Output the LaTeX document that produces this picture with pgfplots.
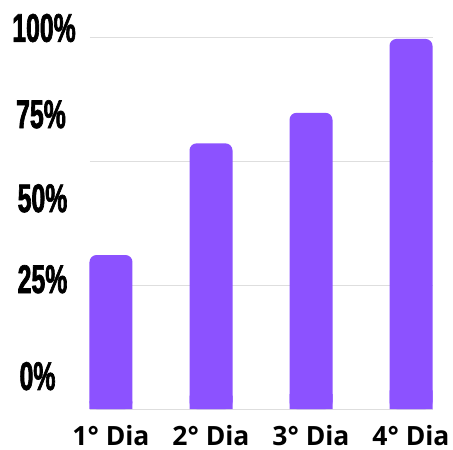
\documentclass[border=0pt]{standalone}
\usepackage{fontspec}
\setmainfont{Open Sans}
\newfontfamily\ylab{Liberation Sans}[FakeStretch=0.62, BoldFeatures={FakeBold=1.6}]
\usepackage{pgfplots}
\pgfplotsset{compat=1.18}
\usepackage{pgfplotstable}
\definecolor{barpurple}{HTML}{8C52FF}
\definecolor{gridgray}{HTML}{DEDEDE}
\pgfplotstableread{
x v
0 1.244
1 2.146
2 2.393
3 2.990
}\datatable
\begin{document}
\begin{tikzpicture}
\begin{axis}[
  scale only axis,
  width=343bp, height=371.3bp,
  xmin=-0.21, xmax=3.22,
  ymin=0, ymax=3,
  axis line style={draw=none},
  major tick length=0pt,
  ytick=\empty,
  extra y ticks={0,1,2,3},
  extra y tick labels={},
  extra y tick style={grid=major, major grid style={gridgray, line width=1bp}},
  xtick={0,1,2,3},
  xticklabels={1° Dia, 2° Dia, 3° Dia, 4° Dia},
  xticklabel style={anchor=base, yshift=-36.8bp, inner sep=0pt, font=\bfseries\fontsize{26.5bp}{26.5bp}\selectfont},
  clip=false,
]
\coordinate (O) at (rel axis cs:0,0);
\addplot[ybar, bar width=0.43, bar shift=0pt, fill=barpurple, draw=none] table[x=x, y expr=\thisrow{v}*0.05] {\datatable};
\addplot[ybar, bar width=0.43, bar shift=0pt, fill=barpurple, draw=none, rounded corners=7bp] table[x=x, y=v] {\datatable};
\begin{scope}[every node/.style={anchor=base, inner sep=0pt, font=\ylab\bfseries\fontsize{40bp}{40bp}\selectfont}]
\node at (axis cs:-0.67,2.967) {100\%};
\node at (axis cs:-0.70,2.270) {75\%};
\node at (axis cs:-0.685,1.591) {50\%};
\node at (axis cs:-0.685,0.937) {25\%};
\node at (axis cs:-0.735,0.154) {0\%};
\end{scope}
\end{axis}
\path (O) ++(-90bp,-41bp) rectangle ++(453bp,450bp);
\end{tikzpicture}
\end{document}
